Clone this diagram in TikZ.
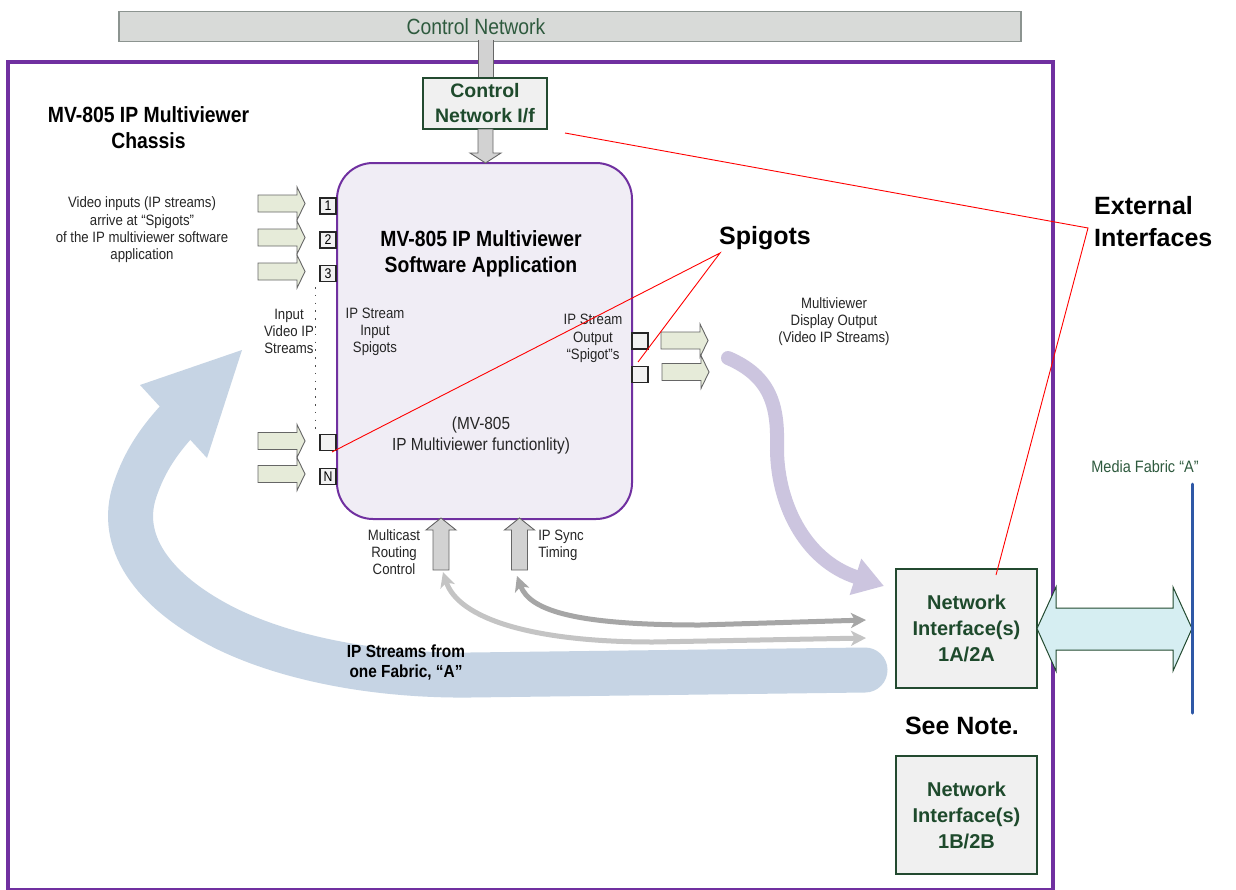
\documentclass[tikz,border=0pt]{standalone}
\usepackage{fontspec}
\setmainfont{Liberation Sans}
\newfontfamily\narrowsf[FakeStretch=0.88]{Liberation Sans}
\usetikzlibrary{arrows.meta}

\definecolor{chassispurple}{HTML}{7030A0}
\definecolor{appfill}{HTML}{F0EDF5}
\definecolor{barfill}{HTML}{D8DAD8}
\definecolor{barline}{HTML}{8C9490}
\definecolor{dkgreen}{HTML}{234A30}
\definecolor{txtgreen}{HTML}{1E4A2C}
\definecolor{lblgreen}{HTML}{2E5A3E}
\definecolor{infill}{HTML}{E6EBD9}
\definecolor{lavender}{HTML}{CCC5DF}
\definecolor{bandblue}{HTML}{C6D4E4}
\definecolor{grayA}{HTML}{A6A6A6}
\definecolor{grayB}{HTML}{C4C4C4}
\definecolor{cyanfill}{HTML}{D6EEF2}
\definecolor{fabricblue}{HTML}{2E58A6}
\definecolor{boxfill}{HTML}{F0F0F0}
\definecolor{blockgray}{HTML}{D2D2D2}
\definecolor{textgray}{HTML}{262626}

\tikzset{
  grayhead/.tip={Stealth[length=15pt,width=15pt,inset=4pt]},
  nibox/.style={draw=dkgreen, line width=2.2pt, fill=boxfill, minimum width=141pt,
    minimum height=119pt, inner sep=0pt, align=center, text=txtgreen,
    font=\fontsize{20}{26}\selectfont\bfseries},
  spigotbox/.style={draw=black!85, line width=1.2pt, fill=black!5, minimum size=16pt,
    inner sep=0pt, font=\narrowsf\fontsize{14}{14}\selectfont},
  smalltxt/.style={align=center, inner sep=0pt, text=textgray,
    font=\narrowsf\fontsize{15}{17.3}\selectfont},
  boldnarrow/.style={align=center, inner sep=0pt, font=\narrowsf\bfseries\fontsize{22}{26}\selectfont},
  callout/.style={inner sep=0pt, font=\bfseries\fontsize{25}{32}\selectfont},
  redline/.style={draw=red, line width=0.9pt},
  blockline/.style={draw=black!60, line width=0.9pt},
  pics/inarrow/.style={code={
    \draw[blockline, fill=infill] (0,-8.5) -- (39,-8.5) -- (39,-16.5) -- (47,0)
      -- (39,16.5) -- (39,8.5) -- (0,8.5) -- cycle;}},
  pics/uparrow/.style={code={
    \draw[blockline, fill=blockgray] (0,0) -- (15,12) -- (8,12) -- (8,52)
      -- (-8,52) -- (-8,12) -- (-15,12) -- cycle;}},
}

\begin{document}
\begin{tikzpicture}[x=1pt,y=-1pt]
\useasboundingbox (0,0) rectangle (1236,889);
\fill[white] (0,0) rectangle (1236,889);

% control network bus
\node[draw=barline, fill=barfill, line width=1.2pt, minimum width=902pt, minimum height=30pt,
  inner sep=0pt] (ctrlnet) at (570,26.5) {};
\node[inner sep=0pt, text=lblgreen, font=\narrowsf\fontsize{22}{26}\selectfont]
  (ctrllbl) at (476,27) {Control Network};

% chassis outline (its lower edge runs along the page border)
\node[draw=chassispurple, line width=4pt, minimum width=1045pt, minimum height=828pt,
  inner sep=0pt] (chassis) at (530.5,476) {};

% stub from the bus into the control interface
\fill[blockgray] (478,40) rectangle (493,79);
\draw[blockline] (478,40) -- (478,79) (493,40) -- (493,79);

\node[draw=dkgreen, line width=2pt, fill=boxfill, minimum width=124pt, minimum height=51pt,
  inner sep=0pt, align=center, text=txtgreen, font=\fontsize{19.5}{25}\selectfont\bfseries]
  (cnif) at (485,103.5) {Control\\Network I/f};

\node[boldnarrow] (chassislbl) at (148.5,128) {\fontsize{22}{28}\selectfont MV-805 IP Multiviewer\\Chassis};

% IP streams from fabric A (wide band with head)
\draw[bandblue, line width=45pt, line cap=round]
  (865,670) -- (470,675) .. controls (380,676) and (290,660) .. (225,628)
  .. controls (150,590) and (118,540) .. (135,490)
  .. controls (145,460) and (160,440) .. (176,422);
\fill[bandblue] (242,350) -- (140,385) -- (207,458) -- cycle;
\node[boldnarrow, font=\narrowsf\bfseries\fontsize{17.5}{20}\selectfont] (streamslbl) at (406,663)
  {IP Streams from\\one Fabric, “A”};

% multiviewer software application
\node[draw=chassispurple, line width=2pt, fill=appfill, rounded corners=36pt,
  minimum width=295pt, minimum height=356pt, inner sep=0pt] (app) at (484.5,341) {};
\node[boldnarrow] (apptitle) at (481,254) {MV-805 IP Multiviewer\\Software Application};
\node[smalltxt] (inspig) at (375,332) {IP Stream\\Input\\Spigots};
\node[smalltxt] (outspig) at (593,338.5) {IP Stream\\Output\\“Spigot”s};
\node[smalltxt, font=\narrowsf\fontsize{17.5}{21}\selectfont] (func) at (481,435)
  {(MV-805\\IP Multiviewer functionlity)};

% control interface feeds the application
\draw[blockline, fill=blockgray] (478,129) -- (493,129) -- (493,153) -- (501,153) -- (485.5,163)
  -- (470,153) -- (478,153) -- cycle;

% input spigots
\node[spigotbox] (s1) at (328,206) {1};
\node[spigotbox] (s2) at (328,240) {2};
\node[spigotbox] (s3) at (328,273.5) {3};
\node[spigotbox] (s4) at (328,442.5) {};
\node[spigotbox] (sn) at (328,476.5) {N};
\pic at (258,203.5) {inarrow};
\pic at (258,237.5) {inarrow};
\pic at (258,271.5) {inarrow};
\pic at (258,441) {inarrow};
\pic at (258,474) {inarrow};
\draw[black!70, line width=1.6pt, dash pattern=on 1.6pt off 6.2pt] (315.5,287) -- (315.5,430);

\node[smalltxt] (vidin) at (142,230)
  {Video inputs (IP streams)\\arrive at “Spigots”\\of the IP multiviewer software\\application};
\node[smalltxt] (inputlbl) at (289,331.5) {Input\\Video IP\\Streams};

% output spigots
\node[spigotbox] (o1) at (640,341) {};
\node[spigotbox] (o2) at (640,374.5) {};
\pic at (661,340.5) {inarrow};
\pic at (662,372) {inarrow};
\node[smalltxt] (mvout) at (834,321.5) {Multiviewer\\Display Output\\(Video IP Streams)};

% display output heads for the network interface
\draw[lavender, line width=14pt, line cap=round, -{Triangle[length=30pt,width=36pt]}]
  (728,358) .. controls (770,376) and (778,405) .. (777,445)
  .. controls (776,500) and (803,560) .. (884,586);

% multicast routing and sync timing
\pic at (441,518) {uparrow};
\pic at (519.5,518) {uparrow};
\node[smalltxt] (mcast) at (394,552) {Multicast\\Routing\\Control};
\node[smalltxt, align=left] (ipsync) at (561,545) {IP Sync\\Timing};

\draw[grayB, line width=5pt, grayhead-grayhead]
  (443,572) .. controls (458,618) and (530,642) .. (653,642) -- (866,638);
\draw[grayA, line width=5pt, grayhead-grayhead]
  (517,576) .. controls (530,612) and (580,625) .. (700,625) -- (866,620);

% network interfaces
\node[nibox] (ni1) at (966.5,628.5) {Network\\Interface(s)\\1A/2A};
\node[nibox, minimum height=118pt] (ni2) at (966.5,815) {Network\\Interface(s)\\1B/2B};
\node[callout] (seenote) at (962,726) {See Note.};

% link to the media fabric
\draw[draw=dkgreen, line width=1pt, fill=cyanfill]
  (1037,628.5) -- (1056,587) -- (1056,608) -- (1173,608) -- (1173,587) -- (1192,628.5)
  -- (1173,671) -- (1173,650) -- (1056,650) -- (1056,671) -- cycle;
\draw[fabricblue, line width=3pt, line cap=round] (1192.5,484) -- (1192.5,713);
\node[inner sep=0pt, text=lblgreen, font=\narrowsf\fontsize{16.5}{20}\selectfont]
  (fabriclbl) at (1145,467) {Media Fabric “A”};

% callouts
\node[callout] (spigots) at (765,238) {Spigots};
\node[callout, anchor=west, align=left] (extif) at (1094,222) {External\\Interfaces};

\coordinate (extjoin) at (1088,228);
\coordinate (cnifend) at (565,133);
\coordinate (nitop) at (996,575);
\coordinate (spjoin) at (720,253);
\coordinate (spin) at (332,452);
\coordinate (spout) at (638,362);
\draw[redline] (cnifend) -- (extjoin) -- (nitop);
\draw[redline] (spin) -- (spjoin) -- (spout);
\end{tikzpicture}
\end{document}
